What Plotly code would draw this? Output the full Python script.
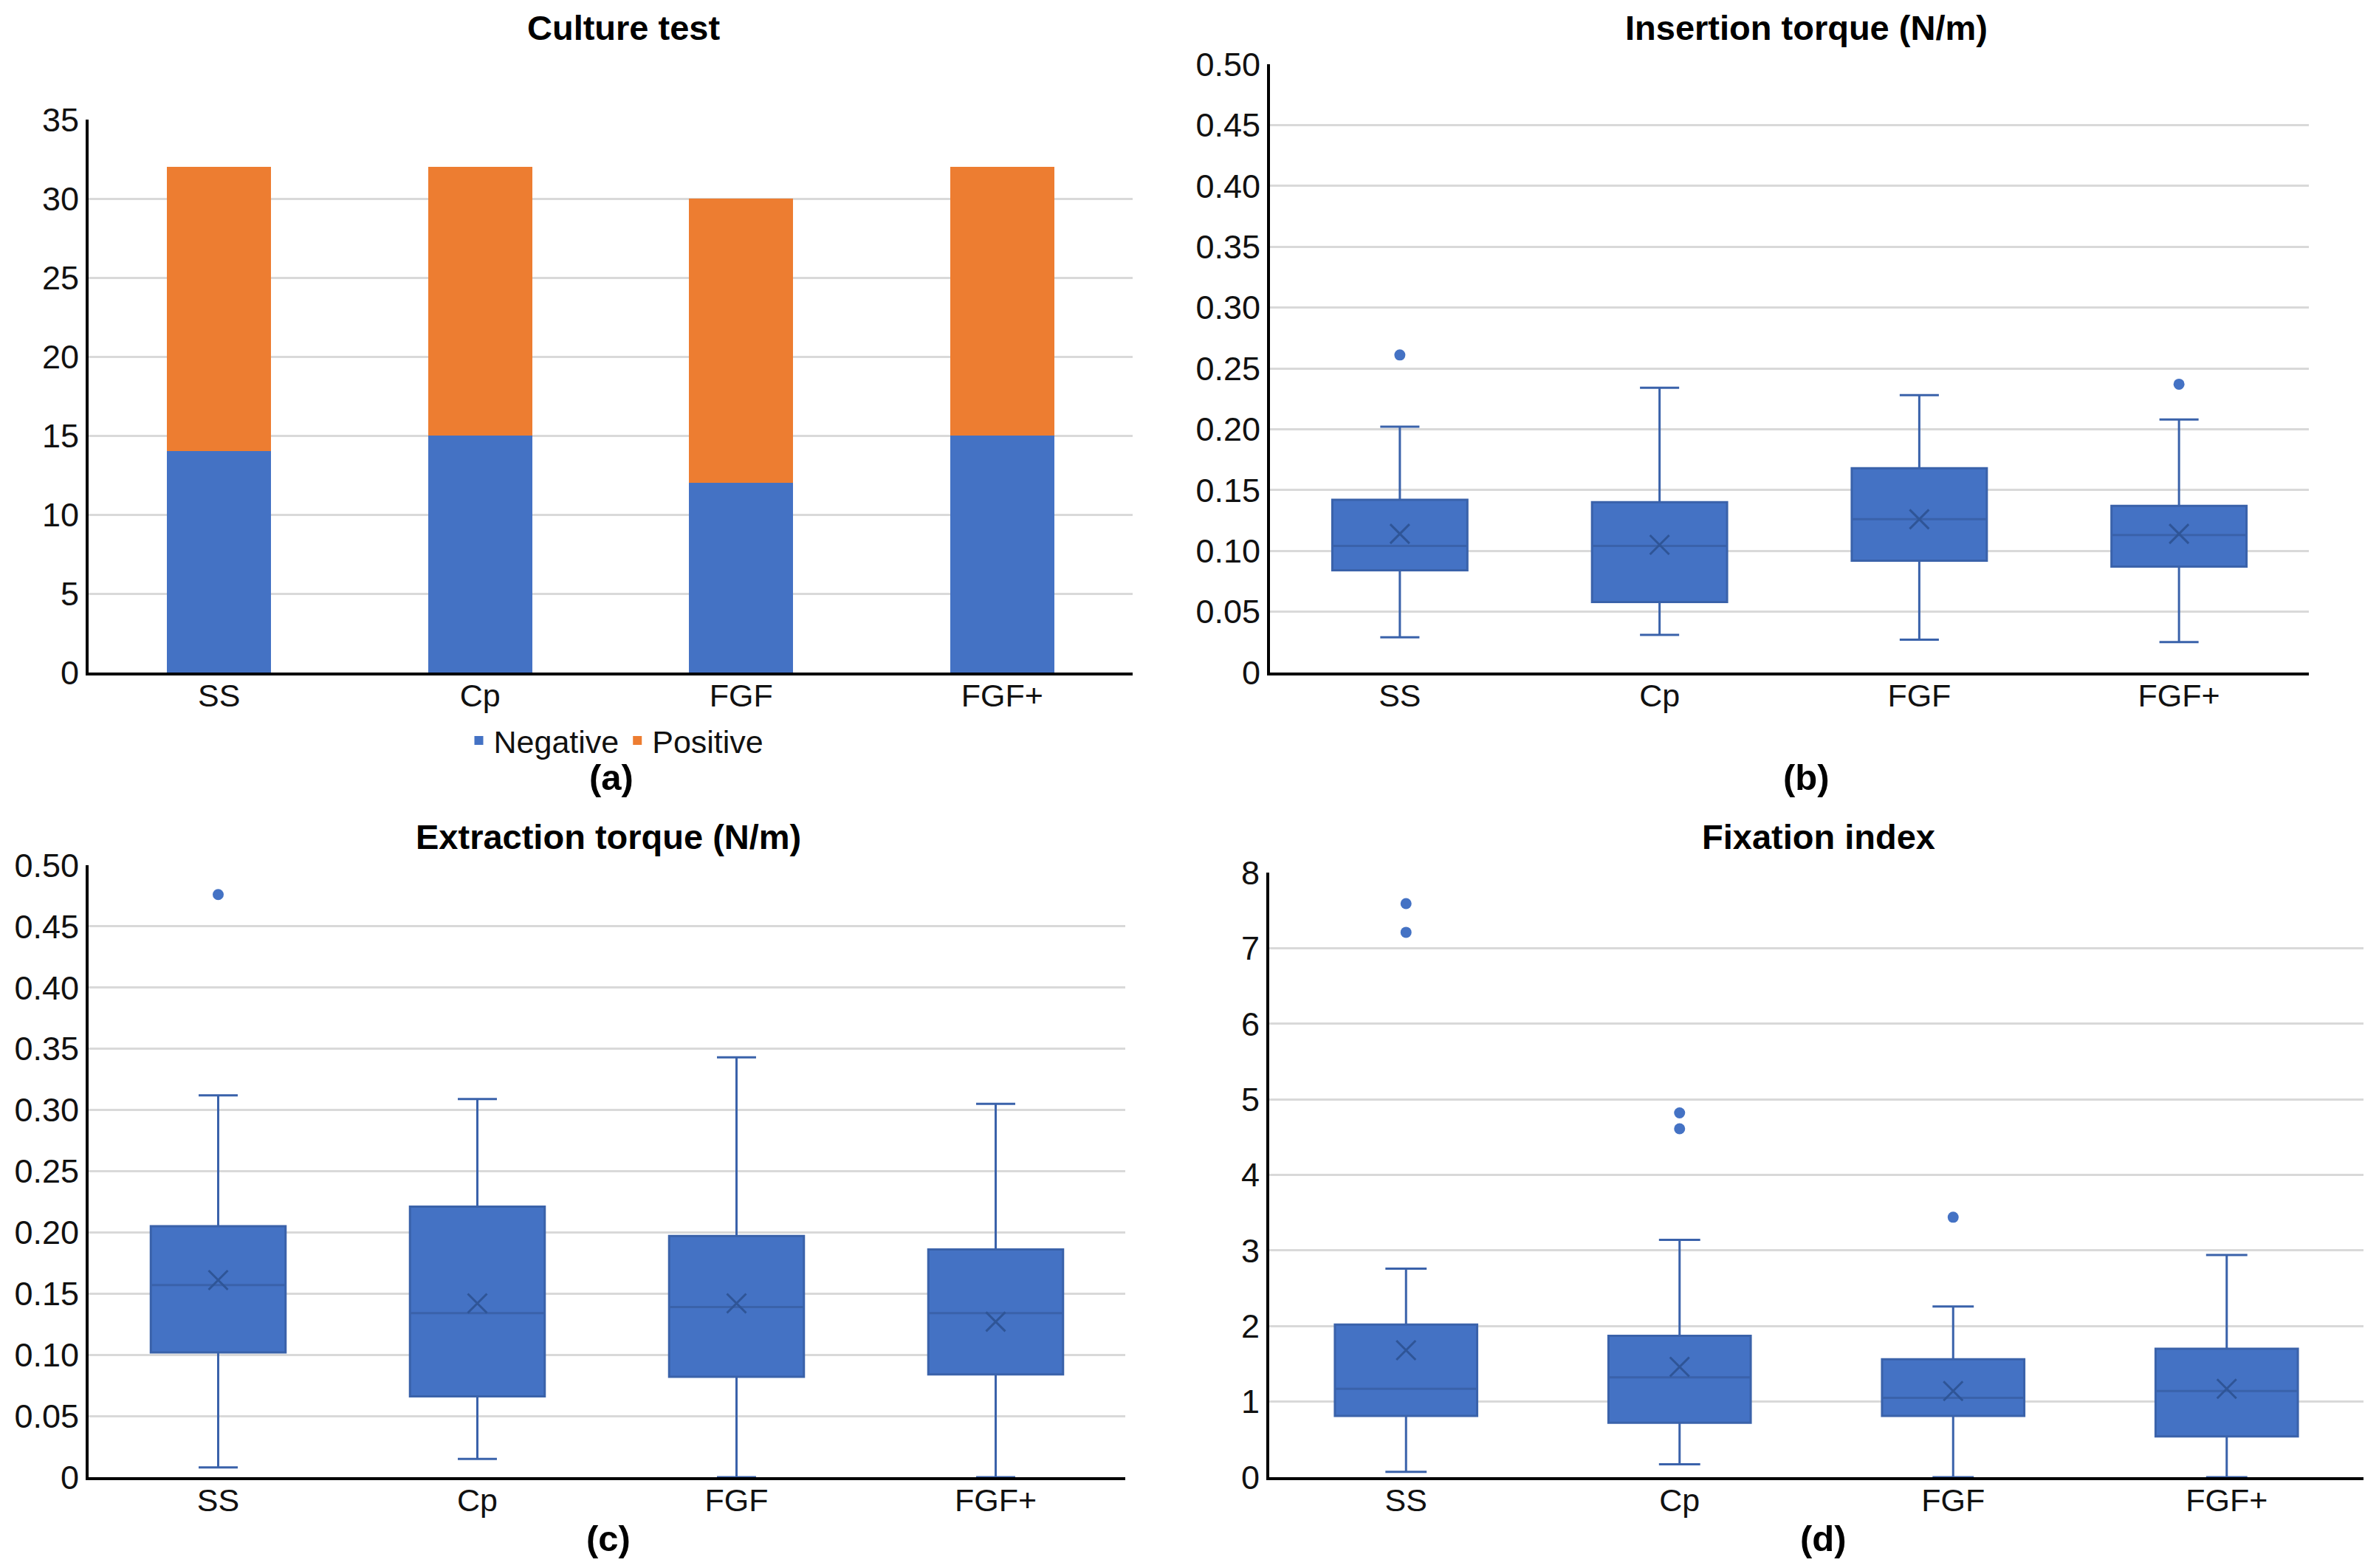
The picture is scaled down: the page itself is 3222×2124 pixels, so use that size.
import plotly.graph_objects as go

# ---------------- data ----------------
categories = ["SS", "Cp", "FGF", "FGF+"]

culture_negative = [14, 15, 12, 15]
culture_positive = [18, 17, 18, 17]

ins_q1 = [0.084, 0.058, 0.092, 0.087]
ins_median = [0.104, 0.104, 0.126, 0.113]
ins_q3 = [0.142, 0.140, 0.168, 0.137]
ins_lower = [0.029, 0.031, 0.027, 0.025]
ins_upper = [0.202, 0.234, 0.228, 0.208]
ins_mean = [0.114, 0.105, 0.126, 0.114]
ins_outlier_cats = ["SS", "FGF+"]
ins_outliers = [0.261, 0.237]

ext_q1 = [0.102, 0.066, 0.082, 0.084]
ext_median = [0.157, 0.134, 0.139, 0.134]
ext_q3 = [0.205, 0.221, 0.197, 0.186]
ext_lower = [0.008, 0.015, 0.0, 0.0]
ext_upper = [0.312, 0.309, 0.343, 0.305]
ext_mean = [0.161, 0.142, 0.142, 0.127]
ext_outlier_cats = ["SS"]
ext_outliers = [0.476]

fix_q1 = [0.81, 0.72, 0.81, 0.54]
fix_median = [1.17, 1.32, 1.05, 1.14]
fix_q3 = [2.02, 1.87, 1.56, 1.70]
fix_lower = [0.07, 0.17, 0.0, 0.0]
fix_upper = [2.76, 3.14, 2.26, 2.94]
fix_mean = [1.68, 1.46, 1.14, 1.17]
fix_outlier_cats = ["SS", "SS", "Cp", "Cp", "FGF"]
fix_outliers = [7.59, 7.21, 4.82, 4.61, 3.44]

culture_ticks = [0, 5, 10, 15, 20, 25, 30, 35]
torque_tickvals = [0, 0.05, 0.10, 0.15, 0.20, 0.25, 0.30, 0.35, 0.40, 0.45, 0.50]
torque_ticktext = ["0", "0.05", "0.10", "0.15", "0.20", "0.25", "0.30", "0.35", "0.40", "0.45", "0.50"]
fix_ticks = [0, 1, 2, 3, 4, 5, 6, 7, 8]

titles = ["Culture test", "Insertion torque (N/m)", "Extraction torque (N/m)", "Fixation index"]
panel_labels = ["(a)", "(b)", "(c)", "(d)"]

# ---------------- styles ----------------
PAGE_W, PAGE_H = 3222, 2124
BODY_MARGIN = 8  # default page margin around the plot div
W, H = PAGE_W - 2 * BODY_MARGIN, PAGE_H - 2 * BODY_MARGIN
BLUE = "#4472C4"
ORANGE = "#ED7D31"
BOXLINE = "#3A62AA"
MEANC = "#2F5597"
GRID = "#D9D9D9"
FONT = "Arial, Liberation Sans, sans-serif"
TXT = "#111111"


def px(x):
    return (x - BODY_MARGIN) / W


def py(y):
    return 1 - (y - BODY_MARGIN) / H


fig = go.Figure()

# (a) stacked bars
fig.add_trace(go.Bar(x=categories, y=culture_negative, name="Negative", marker_color=BLUE,
                     xaxis="x", yaxis="y"))
fig.add_trace(go.Bar(x=categories, y=culture_positive, name="Positive", marker_color=ORANGE,
                     xaxis="x", yaxis="y"))


def add_box(xa, ya, q1, med, q3, lo, hi, mean, ocats, ovals):
    fig.add_trace(go.Box(x=categories, q1=q1, median=med, q3=q3, lowerfence=lo, upperfence=hi,
                         fillcolor=BLUE, line=dict(color=BOXLINE, width=3), whiskerwidth=0.29,
                         showlegend=False, xaxis=xa, yaxis=ya))
    fig.add_trace(go.Scatter(x=categories, y=mean, mode="markers", showlegend=False,
                             marker=dict(symbol="x-thin-open", size=26, color=MEANC,
                                         line=dict(color=MEANC, width=3)),
                             xaxis=xa, yaxis=ya))
    fig.add_trace(go.Scatter(x=ocats, y=ovals, mode="markers", showlegend=False,
                             marker=dict(symbol="circle", size=15, color=BLUE),
                             xaxis=xa, yaxis=ya))


add_box("x2", "y2", ins_q1, ins_median, ins_q3, ins_lower, ins_upper, ins_mean,
        ins_outlier_cats, ins_outliers)
add_box("x3", "y3", ext_q1, ext_median, ext_q3, ext_lower, ext_upper, ext_mean,
        ext_outlier_cats, ext_outliers)
add_box("x4", "y4", fix_q1, fix_median, fix_q3, fix_lower, fix_upper, fix_mean,
        fix_outlier_cats, fix_outliers)

ytickfont = dict(family=FONT, size=45, color=TXT)
xtickfont = dict(family=FONT, size=43, color=TXT)


def xaxis(dom, anchor):
    return dict(domain=[px(dom[0]), px(dom[1])], anchor=anchor, type="category",
                showline=True, linecolor="#000000", linewidth=4, showgrid=False,
                ticks="", tickfont=xtickfont, fixedrange=True, automargin=False,
                ticklabelstandoff=-10)


def yaxis(dom, anchor, rng, tv, tt):
    return dict(domain=[py(dom[1]), py(dom[0])], anchor=anchor, range=rng,
                tickvals=tv, ticktext=tt, showline=True, linecolor="#000000", linewidth=4,
                showgrid=True, gridcolor=GRID, gridwidth=3, zeroline=False, ticks="",
                tickfont=ytickfont, fixedrange=True, automargin=False)


layout = dict(
    template="none",
    width=W, height=H, margin=dict(l=0, r=0, t=0, b=0, pad=0, autoexpand=False),
    paper_bgcolor="white", plot_bgcolor="white",
    barmode="stack", bargap=0.6, boxgap=0.48, boxgroupgap=0,
    xaxis=xaxis((120, 1534), "y"),
    yaxis=yaxis((162, 911), "x", [0, 35], culture_ticks, [str(v) for v in culture_ticks]),
    xaxis2=xaxis((1720, 3127), "y2"),
    yaxis2=yaxis((87, 911), "x2", [0, 0.5], torque_tickvals, torque_ticktext),
    xaxis3=xaxis((120, 1524), "y3"),
    yaxis3=yaxis((1172, 2001), "x3", [0, 0.5], torque_tickvals, torque_ticktext),
    xaxis4=xaxis((1719, 3201), "y4"),
    yaxis4=yaxis((1182, 2001), "x4", [0, 8], fix_ticks, [str(v) for v in fix_ticks]),
    legend=dict(orientation="h", x=px(834), xanchor="center", y=py(1003), yanchor="middle",
                font=dict(family=FONT, size=43, color=TXT), bgcolor="rgba(0,0,0,0)",
                itemwidth=30, traceorder="normal"),
    showlegend=True,
)
fig.update_layout(**layout)

title_pos = [(844, 37), (2446, 37), (824, 1133), (2463, 1133)]
label_pos = [(828, 1053), (2446, 1053), (824, 2084), (2469, 2084)]
for t, (x, y) in zip(titles, title_pos):
    fig.add_annotation(text="<b>" + t + "</b>", x=px(x), y=py(y), xref="paper", yref="paper",
                       showarrow=False, xanchor="center", yanchor="middle",
                       font=dict(family=FONT, size=47, color="#000000"))
for t, (x, y) in zip(panel_labels, label_pos):
    fig.add_annotation(text="<b>" + t + "</b>", x=px(x), y=py(y), xref="paper", yref="paper",
                       showarrow=False, xanchor="center", yanchor="middle",
                       font=dict(family=FONT, size=49, color="#000000"))

fig.write_html("out.html")
